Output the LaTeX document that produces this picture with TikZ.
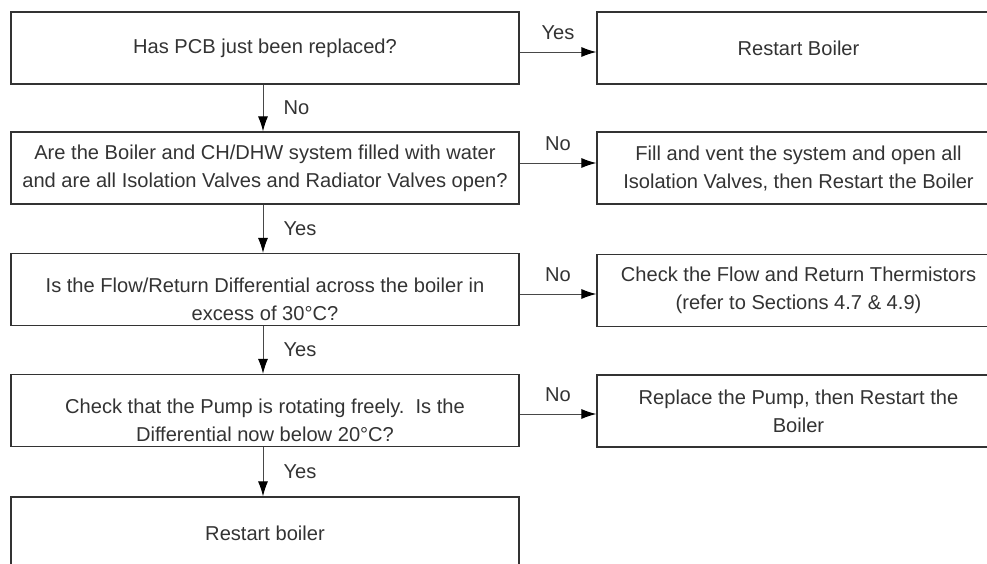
\documentclass[tikz,border=0pt]{standalone}
\usepackage{fontspec}
\setmainfont{Liberation Sans}
\usetikzlibrary{positioning, arrows.meta}

\definecolor{inkgray}{HTML}{333333}
\definecolor{linegray}{HTML}{484848}

\tikzset{
  qbox/.style={draw=inkgray, line width=1.2pt, rectangle, minimum width=508pt,
    minimum height=72pt, align=center, text=inkgray, inner sep=0pt},
  abox/.style={qbox, minimum width=403pt},
  lowtext/.style={align=center, text=inkgray, inner sep=0pt, yshift=-10pt},
  flow/.style={draw=linegray, line width=1pt, -{Latex[length=15pt,width=10pt,color=black]}},
  lbl/.style={text=inkgray, inner sep=0pt}
}

\begin{document}
\begin{tikzpicture}[x=1pt, y=-1pt,
  every node/.append style={font=\fontsize{20.1}{28}\selectfont}]
\useasboundingbox (0,0) rectangle (987,563);
\clip (0,0) rectangle (987,563);

% questions down the left
\node[qbox] (pcb) at (265,48) {Has PCB just been replaced?};
\node[qbox] (fill) at (265,168) {Are the Boiler and CH/DHW system filled with water\\and are all Isolation Valves and Radiator Valves open?};
\node[qbox, label={[lowtext]center:{Is the Flow/Return Differential across the boiler in\\excess of 30\textdegree C?}}] (diff) at (265,289.5) {};
\node[qbox, label={[lowtext]center:{Check that the Pump is rotating freely.\ \ Is the\\Differential now below 20\textdegree C?}}] (pump) at (265,410.5) {};
\node[qbox] (done) at (265,533) {Restart boiler};

% actions on the right
\node[abox] (restart) at (798.5,48) {Restart Boiler};
\node[abox] (vent) at (798.5,168) {Fill and vent the system and open all\\Isolation Valves, then Restart the Boiler};
\node[abox] (therm) at (798.5,290.5) {Check the Flow and Return Thermistors\\(refer to Sections 4.7 \& 4.9)};
\node[abox] (newpump) at (798.5,411) {Replace the Pump, then Restart the\\Boiler};

% down
\draw[flow] ([xshift=-2pt]pcb.south) -- node[lbl, right=20pt] {No} ([xshift=-2pt]fill.north);
\draw[flow] ([xshift=-2pt]fill.south) -- node[lbl, right=20pt] {Yes} ([xshift=-2pt]diff.north);
\draw[flow] ([xshift=-2pt]diff.south) -- node[lbl, right=20pt] {Yes} ([xshift=-2pt]pump.north);
\draw[flow] ([xshift=-2pt]pump.south) -- node[lbl, right=20pt] {Yes} ([xshift=-2pt]done.north);

% across
\draw[flow] ([yshift=-4pt]pcb.east) -- node[lbl, above=12pt] {Yes} ([yshift=-4pt]pcb.east -| restart.west);
\draw[flow] ([yshift=5pt]fill.east) -- node[lbl, above=12pt] {No} ([yshift=5pt]fill.east -| vent.west);
\draw[flow] ([yshift=-4.5pt]diff.east) -- node[lbl, above=12pt] {No} ([yshift=-4.5pt]diff.east -| therm.west);
\draw[flow] ([yshift=-3.5pt]pump.east) -- node[lbl, above=12pt] {No} ([yshift=-3.5pt]pump.east -| newpump.west);
\end{tikzpicture}
\end{document}
